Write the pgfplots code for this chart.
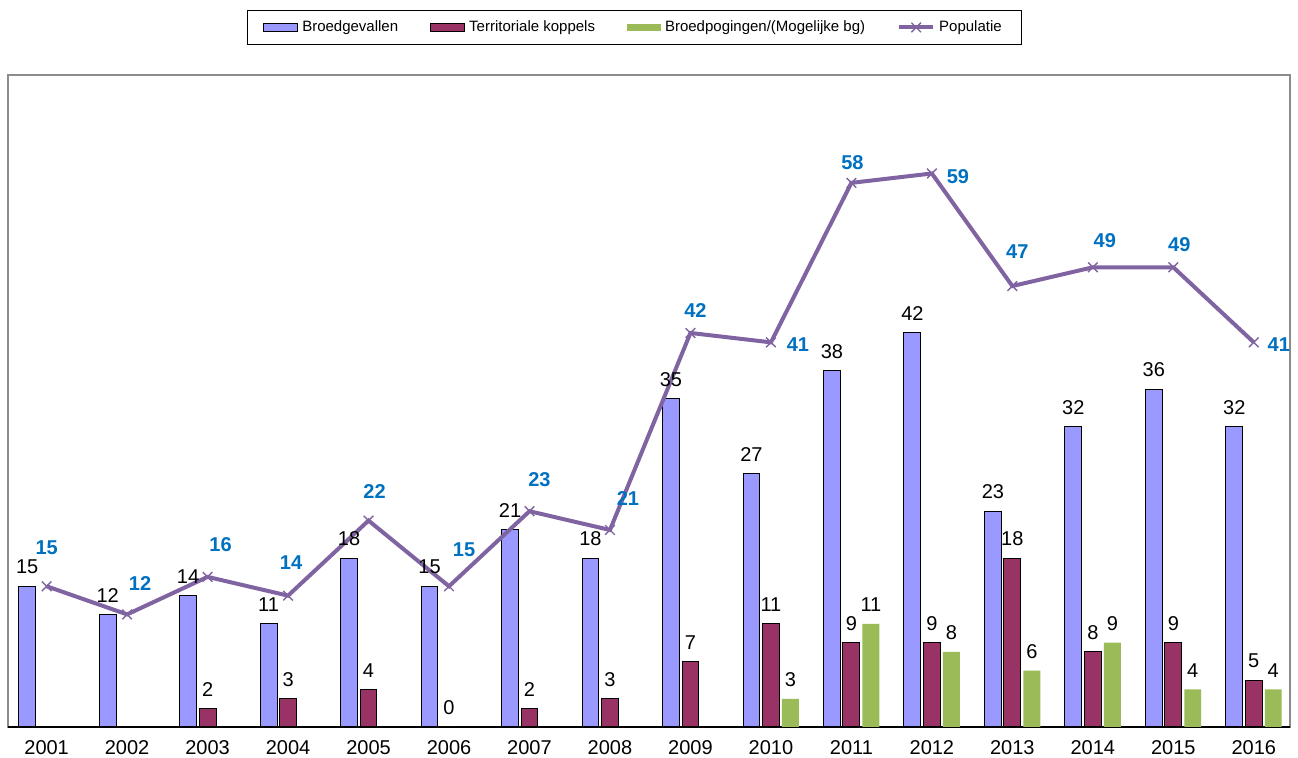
\documentclass[border=0pt]{standalone}
\usepackage{fontspec}
\setmainfont{Liberation Sans}
\usepackage{pgfplots}
\pgfplotsset{compat=1.18}
\definecolor{cBlue}{HTML}{9999FF}
\definecolor{cMaroon}{HTML}{993366}
\definecolor{cGreen}{HTML}{9BBB59}
\definecolor{cLine}{HTML}{8064A2}
\definecolor{cLab}{HTML}{0070C0}
\pgfplotsset{
  barleg/.style={legend image code/.code={\draw[##1] (0pt,-1.8pt) rectangle (17pt,1.8pt);}},
  barlegfill/.style={legend image code/.code={\fill[##1] (0pt,-1.8pt) rectangle (17pt,1.8pt);}},
  lineleg/.style={legend image code/.code={\draw[mark repeat=2, mark phase=2, ##1] plot coordinates {(0pt,0pt) (8.5pt,0pt) (17pt,0pt)};}},
  barlab/.style={nodes near coords, every node near coord/.append style={font=\fontsize{10}{12}\selectfont, black, yshift=2.5pt}},
}
\begin{document}
\begin{tikzpicture}
\begin{axis}[
  scale only axis,
  width=641pt, height=326pt,
  xmin=-0.48, xmax=15.45,
  ymin=0, ymax=69.5,
  axis x line*=bottom,
  axis y line=none,
  x axis line style={black, line width=1.4pt, -},
  axis background/.style={draw=gray!90, line width=0.8pt},
  xtick={0,...,15},
  xticklabels={2001,2002,2003,2004,2005,2006,2007,2008,2009,2010,2011,2012,2013,2014,2015,2016},
  major tick length=0pt,
  xticklabel style={font=\fontsize{10}{12}\selectfont, yshift=-3.2pt},
  ytick=\empty,
  ybar,
  bar width=0.21,
  clip=false,
  legend columns=4,
  legend style={at={(0.4887,1)}, anchor=south, yshift=15pt, draw=black, line width=0.6pt,
    font=\fontsize{7.5}{9}\selectfont, inner xsep=8pt, inner ysep=3pt,
    /tikz/every even column/.append style={column sep=14pt}},
  legend cell align=left,
  /pgf/number format/assume math mode=true,
]
\addplot[fill=cBlue, draw=black, line width=0.5pt, bar shift=-0.242, barlab, barleg]
coordinates {(0,15) (1,12) (2,14) (3,11) (4,18) (5,15) (6,21) (7,18) (8,35) (9,27) (10,38) (11,42) (12,23) (13,32) (14,36) (15,32)};
\addlegendentry{Broedgevallen}
\addplot[fill=cMaroon, draw=black, line width=0.5pt, bar shift=0, barlab, barleg]
coordinates {(2,2) (3,3) (4,4) (5,0) (6,2) (7,3) (8,7) (9,11) (10,9) (11,9) (12,18) (13,8) (14,9) (15,5)};
\addlegendentry{Territoriale koppels}
\addplot[fill=cGreen, draw=none, bar shift=0.242, barlab, barlegfill]
coordinates {(9,3) (10,11) (11,8) (12,6) (13,9) (14,4) (15,4)};
\addlegendentry{Broedpogingen/(Mogelijke bg)}
\addplot[sharp plot, color=cLine, line width=2pt, mark=x, mark size=3.4pt,
  mark options={line width=0.7pt},
  visualization depends on={value \thisrow{dx} \as \dx},
  visualization depends on={value \thisrow{dy} \as \dy},
  nodes near coords,
  every node near coord/.append style={font=\bfseries\fontsize{10}{12}\selectfont, text=cLab, anchor=center, xshift=\dx pt, yshift=\dy pt},
  lineleg]
table[x=x, y=y] {
x y dx dy
0 15 0 19.5
1 12 6.5 15.5
2 16 6.5 16
3 14 1.5 16.5
4 22 3 14.5
5 15 7.5 18.5
6 23 5 16
7 21 9 15.5
8 42 2.5 11
9 41 13.5 -1
10 58 0.5 10
11 59 13 -1.5
12 47 2.5 17
13 49 6 13.5
14 49 3 11.5
15 41 12.5 -1
};
\addlegendentry{Populatie}
\end{axis}
\pgfresetboundingbox
\path (-4pt,-15.5pt) rectangle (645pt,363.5pt);
\end{tikzpicture}
\end{document}
